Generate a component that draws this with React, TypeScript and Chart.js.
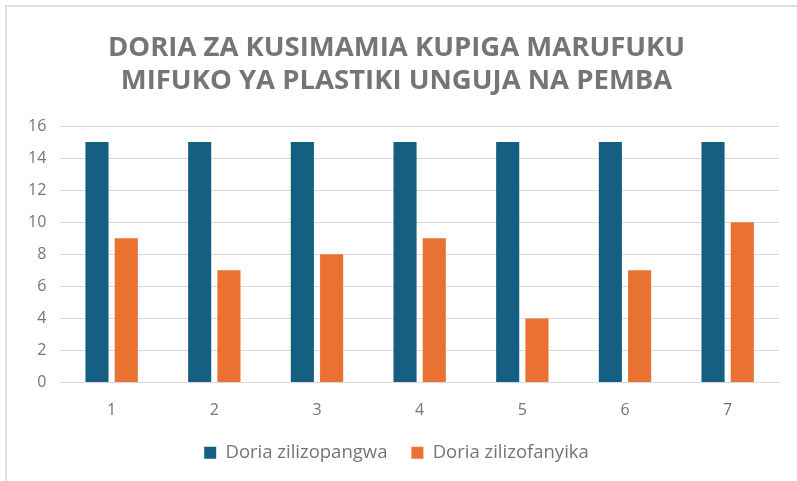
import React, { useEffect, useRef } from "react";
import { Chart, registerables } from "chart.js";

Chart.register(...registerables);

const categories = ["1", "2", "3", "4", "5", "6", "7"];
const pangwa = [15, 15, 15, 15, 15, 15, 15];
const fanyika = [9, 7, 8, 9, 4, 7, 10];
const titleLines = ["DORIA ZA KUSIMAMIA KUPIGA MARUFUKU", "MIFUKO YA PLASTIKI UNGUJA NA PEMBA"];
const seriesNames = ["Doria zilizopangwa", "Doria zilizofanyika"];

export default function App() {
  const ref = useRef<HTMLCanvasElement | null>(null);
  useEffect(() => {
    document.body.style.margin = "0";
    const chart = new Chart(ref.current!, {
      type: "bar",
      data: {
        labels: categories,
        datasets: [
          { label: seriesNames[0], data: pangwa, backgroundColor: "#156082" },
          { label: seriesNames[1], data: fanyika, backgroundColor: "#E97132" },
        ],
      },
      options: {
        responsive: false,
        animation: false,
        devicePixelRatio: 1,
        layout: { padding: { left: 7, right: 24, top: 14, bottom: 15 } },
        datasets: { bar: { categoryPercentage: 0.57, barPercentage: 0.79 } },
        plugins: {
          title: {
            display: true,
            text: titleLines,
            color: "#757575",
            font: { family: "Open Sans", size: 27.5, weight: "bold", lineHeight: 1.2 },
            padding: { top: 11, bottom: 28 },
          },
          legend: {
            position: "bottom",
            labels: {
              color: "#757575",
              font: { family: "Open Sans", size: 18.5 },
              boxWidth: 12,
              boxHeight: 12,
              padding: 24,
            },
          },
          tooltip: { enabled: false },
        },
        scales: {
          x: {
            grid: { display: false },
            border: { color: "#d9d9d9" },
            ticks: { color: "#757575", font: { family: "Open Sans", size: 16 }, padding: 10 },
            afterFit: (s: any) => { s.height = 37; },
          },
          y: {
            min: 0,
            max: 16,
            ticks: { stepSize: 2, color: "#757575", font: { family: "Open Sans", size: 16 }, padding: 14 },
            grid: { color: "#d9d9d9", drawTicks: false },
            border: { display: false },
          },
        },
      },
    });
    return () => chart.destroy();
  }, []);
  return (
    <div style={{ position: "absolute", left: 5, top: 5, width: 800, height: 484, border: "2px solid #e0e0e0", boxSizing: "border-box", background: "#fff" }}>
      <canvas ref={ref} width={796} height={480} style={{ display: "block" }} />
    </div>
  );
}
